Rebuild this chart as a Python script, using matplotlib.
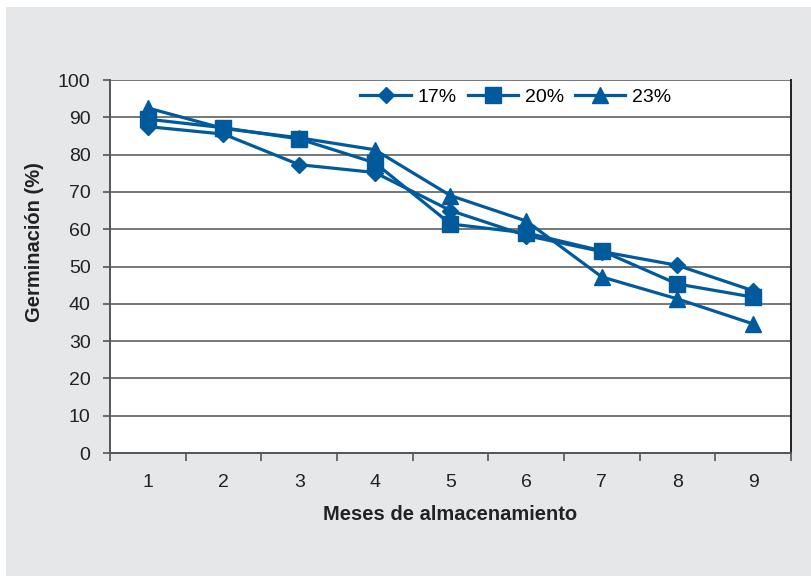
import matplotlib.pyplot as plt
from matplotlib.patches import Rectangle

plt.rcParams["font.family"] = ["Liberation Sans", "DejaVu Sans"]

# 数据：储藏月数与发芽率
meses = [1, 2, 3, 4, 5, 6, 7, 8, 9]
g17 = [87.5, 85.5, 77.3, 75.2, 65.0, 58.3, 54.0, 50.3, 43.5]
g20 = [89.5, 87.2, 84.2, 77.8, 61.4, 59.0, 54.2, 45.3, 41.8]
g23 = [92.5, 87.0, 84.5, 81.3, 69.0, 62.2, 47.2, 41.3, 34.6]
etiquetas = ["17%", "20%", "23%"]

azul = "#005a9c"
gris_fondo = "#e6e7e8"

fig = plt.figure(figsize=(8.12, 5.76), dpi=100)
fig.patch.set_facecolor("white")
fig.patches.append(Rectangle((6 / 812, 0), 1, 1 - 7 / 576, transform=fig.transFigure,
                             facecolor=gris_fondo, edgecolor="none", zorder=-10))

ax = fig.add_axes([110 / 812, 123 / 576, 681 / 812, 373 / 576])
ax.set_facecolor("white")

ax.plot(meses, g17, color=azul, lw=2.3, marker="D", ms=8, label=etiquetas[0])
ax.plot(meses, g20, color=azul, lw=2.3, marker="s", ms=11, label=etiquetas[1])
ax.plot(meses, g23, color=azul, lw=2.3, marker="^", ms=11, label=etiquetas[2])

ax.set_xlim(0.5, 9.5)
ax.set_ylim(0, 100)
ax.set_yticks(range(0, 101, 10))
ax.set_xticks(meses)
ax.set_xticks([m + 0.5 for m in range(0, 10)], minor=True)
ax.tick_params(axis="x", which="major", length=0, pad=15, labelsize=14, labelcolor="#222222")
ax.tick_params(axis="x", which="minor", length=6, width=1.2, color="#555555")
ax.tick_params(axis="y", length=5, width=1.2, color="#555555", pad=9,
               labelsize=14, labelcolor="#222222")

ax.grid(axis="y", color="#777777", lw=1.4)
ax.set_axisbelow(True)
ax.spines["top"].set_visible(False)
ax.spines["left"].set_color("#555555")
ax.spines["left"].set_linewidth(1.4)
ax.spines["bottom"].set_color("#555555")
ax.spines["bottom"].set_linewidth(1.4)
ax.spines["right"].set_color("#222222")
ax.spines["right"].set_linewidth(1.4)

ax.set_xlabel("Meses de almacenamiento", fontsize=14.5, fontweight="bold",
              color="#222222", labelpad=10)
ax.set_ylabel("Germinación (%)", fontsize=14.5, fontweight="bold",
              color="#222222")
ax.yaxis.set_label_coords(-0.097, 0.566)

ax.legend(loc="center", bbox_to_anchor=(0.596, 0.954), ncol=3, frameon=False,
          fontsize=14, handlelength=2.6, handletextpad=0.35, columnspacing=0.55,
          borderaxespad=0)

fig.savefig("out.png", dpi=100)
